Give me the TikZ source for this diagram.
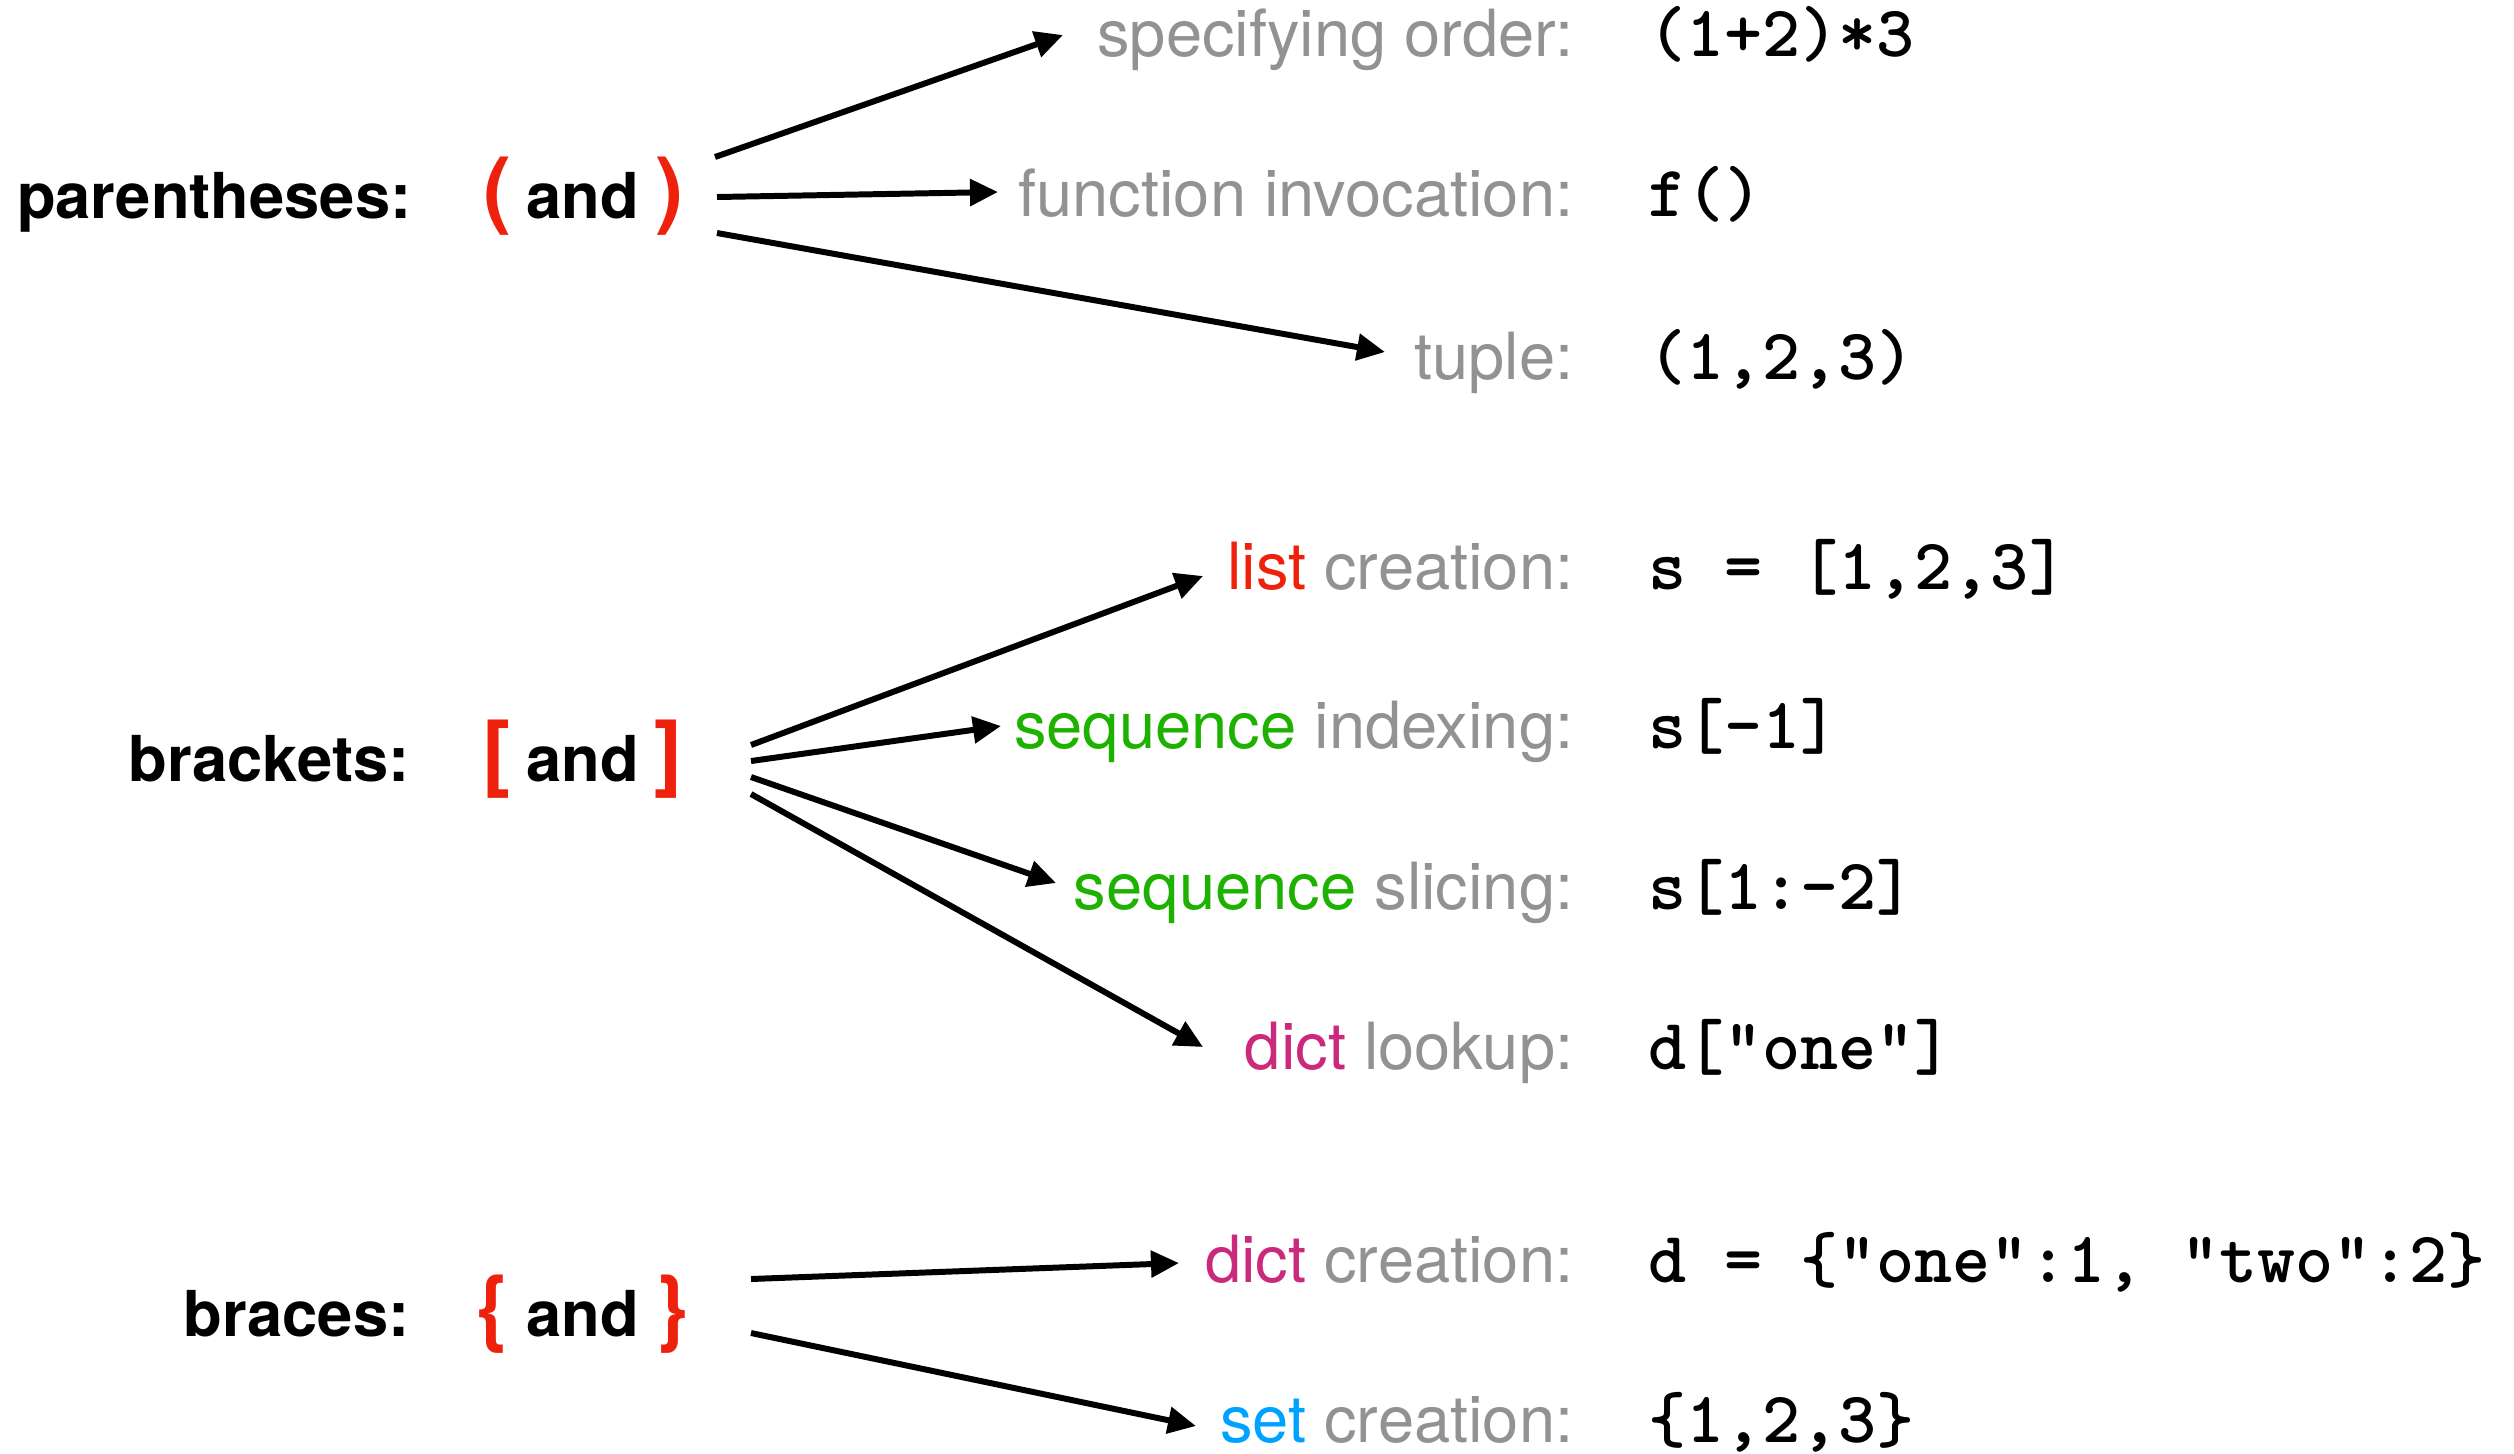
\documentclass[tikz,border=0pt]{standalone}
\usepackage{fontspec}
\setmainfont{TeX Gyre Heros}
\newfontfamily\codefont{lmmonolt10-bold.otf}
\usetikzlibrary{arrows.meta}
\definecolor{lblgray}{HTML}{929292}
\definecolor{kred}{HTML}{EE220C}
\definecolor{kgreen}{HTML}{1DB100}
\definecolor{kmag}{HTML}{CB297B}
\definecolor{kblue}{HTML}{00A2FF}
\tikzset{
  grouplbl/.style={font=\fontsize{18}{20}\selectfont\bfseries, anchor=base east, inner sep=0pt},
  delimtxt/.style={font=\fontsize{24}{26}\selectfont\bfseries, text=kred, anchor=base, inner sep=0pt},
  andtxt/.style={font=\fontsize{18}{20}\selectfont\bfseries, anchor=base, inner sep=0pt},
  usage/.style={font=\fontsize{18.5}{20}\selectfont, text=lblgray, anchor=base east, inner sep=0pt},
  codetxt/.style={font=\fontsize{20.6}{23}\selectfont\codefont, anchor=base west, inner sep=0pt},
  conn/.style={-{Triangle[length=0.28cm,width=0.26cm]}, line width=1.7pt},
}
\begin{document}
\begin{tikzpicture}[x=0.01cm, y=-0.01cm]
\useasboundingbox (0,0) rectangle (2514,1453);

% group headings
\node[grouplbl] (parlbl) at (412,218) {parentheses:};
\node[delimtxt] (paro) at (498,218) {(};
\node[andtxt] (parand) at (583,218) {and};
\node[delimtxt] (parc) at (670,218) {)};

\node[grouplbl] (brklbl) at (410,781) {brackets:};
\node[delimtxt] (brko) at (497,781) {[};
\node[andtxt] (brkand) at (583,781) {and};
\node[delimtxt] (brkc) at (669,781) {]};

\node[grouplbl] (brclbl) at (410,1336) {braces:};
\node[delimtxt] (brco) at (493,1336) {\{};
\node[andtxt] (brcand) at (583,1336) {and};
\node[delimtxt] (brcc) at (672,1336) {\}};

% usages
\node[usage] (so) at (1574,56) {specifying order:};
\node[codetxt] (soc) at (1648,56) {(1+2)*3};
\node[usage] (fi) at (1574,216) {function invocation:};
\node[codetxt] (fic) at (1648,216) {f()};
\node[usage] (tu) at (1574,379) {tuple:};
\node[codetxt] (tuc) at (1648,379) {(1,2,3)};

\node[usage] (lc) at (1574,589) {\textcolor{kred}{list} creation:};
\node[codetxt] (lcc) at (1648,589) {s = [1,2,3]};
\node[usage] (si) at (1574,748) {\textcolor{kgreen}{sequence} indexing:};
\node[codetxt] (sic) at (1648,748) {s[-1]};
\node[usage] (ss) at (1574,909) {\textcolor{kgreen}{sequence} slicing:};
\node[codetxt] (ssc) at (1648,909) {s[1:-2]};
\node[usage] (dl) at (1574,1069) {\textcolor{kmag}{dict} lookup:};
\node[codetxt] (dlc) at (1648,1069) {d["one"]};

\node[usage] (dc) at (1574,1282) {\textcolor{kmag}{dict} creation:};
\node[codetxt] (dcc) at (1648,1282) {d = \{"one":1, "two":2\}};
\node[usage] (sc) at (1574,1442) {\textcolor{kblue}{set} creation:};
\node[codetxt] (scc) at (1648,1442) {\{1,2,3\}};

% connector end points
\coordinate (a1s) at (715,157);  \coordinate (a1e) at (1063,35);
\coordinate (a2s) at (717,197);  \coordinate (a2e) at (998,192);
\coordinate (a3s) at (717,233);  \coordinate (a3e) at (1385,352);
\coordinate (b1s) at (751,745);  \coordinate (b1e) at (1203,576);
\coordinate (b2s) at (751,761);  \coordinate (b2e) at (1001,726);
\coordinate (b3s) at (751,777);  \coordinate (b3e) at (1056,883);
\coordinate (b4s) at (751,794);  \coordinate (b4e) at (1203,1047);
\coordinate (c1s) at (751,1279); \coordinate (c1e) at (1179,1263);
\coordinate (c2s) at (751,1333); \coordinate (c2e) at (1196,1426);

\draw[conn] (a1s) -- (a1e);
\draw[conn] (a2s) -- (a2e);
\draw[conn] (a3s) -- (a3e);
\draw[conn] (b1s) -- (b1e);
\draw[conn] (b2s) -- (b2e);
\draw[conn] (b3s) -- (b3e);
\draw[conn] (b4s) -- (b4e);
\draw[conn] (c1s) -- (c1e);
\draw[conn] (c2s) -- (c2e);
\end{tikzpicture}
\end{document}
